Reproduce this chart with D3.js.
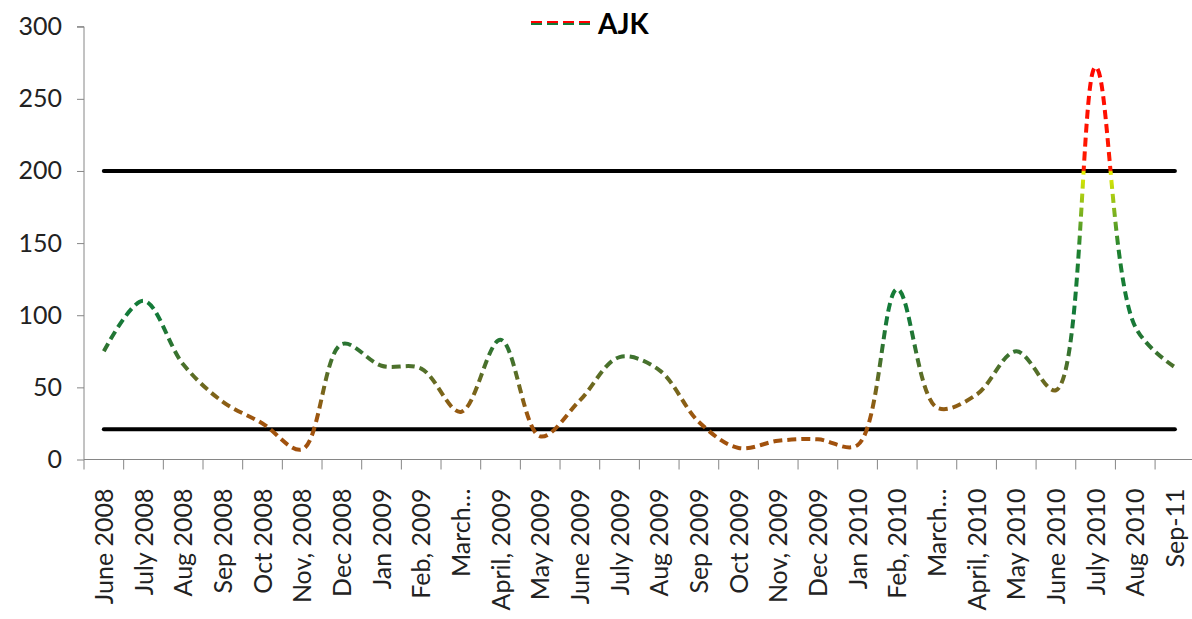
<!DOCTYPE html>
<html><head><meta charset="utf-8">
<script src="https://cdn.jsdelivr.net/npm/d3@7"></script>
<style>body{margin:0;background:#fff;} svg{display:block;}</style>
</head><body>
<svg id="chart" width="1192" height="619"></svg>
<script>
const categories = ["June 2008","July 2008","Aug 2008","Sep 2008","Oct 2008","Nov, 2008","Dec 2008","Jan 2009","Feb, 2009","March…","April, 2009","May 2009","June 2009","July 2009","Aug 2009","Sep 2009","Oct 2009","Nov, 2009","Dec 2009","Jan 2010","Feb, 2010","March…","April, 2010","May 2010","June 2010","July 2010","Aug 2010","Sep-11"];
const values = [75,110,66,40,25,7,80,65,63,33,83,16,41,71,62,26,8,13,14,10,118,36,45,75,48,272,92,64];
const thresholds = [200, 21];
const yTicks = [0,50,100,150,200,250,300];
const seriesName = "AJK";

const svg = d3.select("#chart");
const font = "Lato, 'Open Sans', sans-serif";
const idx = d3.range(categories.length);
const x = d3.scaleBand().domain(idx).range([84, 84 + 28*39.67]).padding(0);
const y = d3.scaleLinear().domain([0,300]).range([459.5, 26.7]);
const cx = i => x(i) + x.bandwidth()/2;

// gradient by value
const defs = svg.append("defs");
const grad = defs.append("linearGradient").attr("id","valGrad")
  .attr("gradientUnits","userSpaceOnUse").attr("x1",0).attr("x2",0)
  .attr("y1", y(0)).attr("y2", y(300));
const stops = [[0,"#a24f0c"],[28,"#a0550e"],[45,"#7d6419"],[62,"#52702a"],[80,"#2a7432"],[100,"#127a3a"],[145,"#1e8030"],[175,"#8cba1c"],[199.5,"#e6f000"],[200.5,"#ff1a00"],[300,"#ff0000"]];
stops.forEach(s => grad.append("stop").attr("offset", s[0]/300).attr("stop-color", s[1]));

// y axis
const yAxis = d3.axisLeft(y).tickValues(yTicks).tickSize(7).tickPadding(15);
const yg = svg.append("g").attr("transform","translate(84,0)").call(yAxis);
yg.select(".domain").attr("stroke","#868686").attr("d", `M-7,${y(300)}H0V${y(0)}`);
yg.selectAll(".tick line").attr("stroke","#868686");
yg.selectAll(".tick text").attr("font-family",font).attr("font-size",25).attr("fill","#222");

// x axis
const xg = svg.append("g").attr("transform",`translate(0,${y(0)})`);
xg.append("line").attr("x1",84).attr("x2",1192).attr("y1",0).attr("y2",0).attr("stroke","#868686");
xg.selectAll("line.tk").data(idx).enter().append("line").attr("class","tk")
  .attr("x1",i=>x(i)).attr("x2",i=>x(i)).attr("y1",0).attr("y2",10).attr("stroke","#868686");
xg.selectAll("text").data(idx).enter().append("text")
  .attr("transform", i => `translate(${cx(i)+9},29) rotate(-90)`)
  .attr("text-anchor","end").attr("font-family",font).attr("font-size",25).attr("fill","#222")
  .text(i => categories[i]);

// threshold lines
svg.selectAll("line.th").data(thresholds).enter().append("line").attr("class","th")
  .attr("x1", cx(0)).attr("x2", cx(idx.length-1))
  .attr("y1", d=>y(d)).attr("y2", d=>y(d))
  .attr("stroke","#000").attr("stroke-width",4).attr("stroke-linecap","round");

// series
const line = d3.line().x((d,i)=>cx(i)).y(d=>y(d)).curve(d3.curveCatmullRom.alpha(0.5));
svg.append("path").datum(values).attr("d", line).attr("fill","none")
  .attr("stroke","url(#valGrad)").attr("stroke-width",4).attr("stroke-dasharray","9,5");

// legend
const leg = svg.append("g");
for (let i=0;i<4;i++){
  leg.append("rect").attr("x",531+i*16).attr("y",21).attr("width",11).attr("height",2).attr("fill","#ff0000");
  leg.append("rect").attr("x",531+i*16).attr("y",23).attr("width",11).attr("height",2).attr("fill","#157a3a");
}
svg.append("text").attr("x",598).attr("y",34).attr("font-family",font).attr("font-weight","bold")
  .attr("font-size",28).attr("fill","#000").text(seriesName);
</script>
</body></html>
